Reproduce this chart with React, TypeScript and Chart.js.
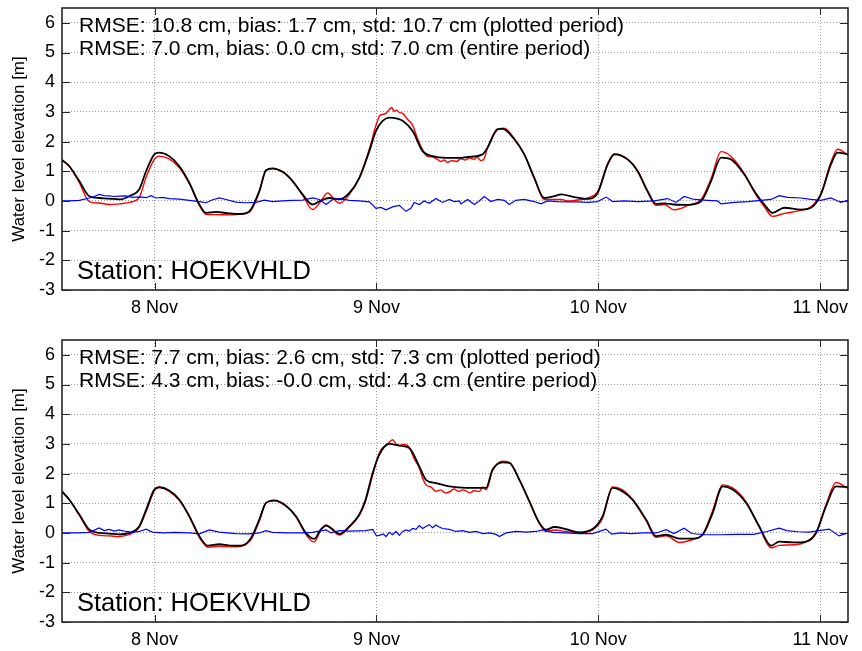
import React, { useEffect, useRef } from 'react';
import { Chart, registerables } from 'chart.js';

Chart.register(...registerables);

// ---------- axis definitions ----------
const X_RANGE = [7.583, 11.125]; // days of November
const X_TICKS = [8, 9, 10, 11];
const X_TICK_LABELS = ['8 Nov', '9 Nov', '10 Nov', '11 Nov'];
const Y_RANGE = [-3, 6.5];
const Y_TICKS = [-3, -2, -1, 0, 1, 2, 3, 4, 5, 6];
const Y_TITLE = 'Water level elevation [m]';
const STATION = 'Station: HOEKVHLD';

const TOP_STATS = [
  'RMSE: 10.8 cm, bias: 1.7 cm, std: 10.7 cm (plotted period)',
  'RMSE: 7.0 cm, bias: 0.0 cm, std: 7.0 cm (entire period)',
];
const BOTTOM_STATS = [
  'RMSE: 7.7 cm, bias: 2.6 cm, std: 7.3 cm (plotted period)',
  'RMSE: 4.3 cm, bias: -0.0 cm, std: 4.3 cm (entire period)',
];

// ---------- top panel data ----------
const TOP_T_MODEL = [7.583, 7.616, 7.661, 7.706, 7.751, 7.796, 7.841, 7.886, 7.931, 7.962, 7.999, 8.021, 8.066, 8.112, 8.157, 8.202, 8.232, 8.277, 8.337, 8.382, 8.427, 8.472, 8.502, 8.532, 8.577, 8.622, 8.667, 8.712, 8.743, 8.788, 8.833, 8.878, 8.923, 8.968, 8.998, 9.028, 9.058, 9.095, 9.118, 9.163, 9.208, 9.253, 9.314, 9.373, 9.411, 9.478, 9.501, 9.546, 9.569, 9.621, 9.666, 9.711, 9.756, 9.802, 9.832, 9.892, 9.952, 9.997, 10.042, 10.072, 10.132, 10.177, 10.222, 10.260, 10.297, 10.342, 10.402, 10.463, 10.508, 10.553, 10.598, 10.658, 10.703, 10.748, 10.785, 10.838, 10.913, 10.958, 11.003, 11.048, 11.078, 11.125];
const TOP_MODEL = [1.38, 1.17, 0.67, 0.16, 0.10, 0.08, 0.05, 0.16, 0.39, 1.00, 1.57, 1.63, 1.51, 1.17, 0.61, -0.12, -0.40, -0.37, -0.42, -0.44, -0.35, 0.33, 1.03, 1.10, 0.98, 0.67, 0.22, -0.12, -0.01, 0.10, 0.05, 0.27, 0.78, 1.68, 2.36, 2.70, 2.81, 2.77, 2.70, 2.36, 1.68, 1.51, 1.45, 1.45, 1.48, 1.57, 1.80, 2.42, 2.43, 2.08, 1.57, 0.78, 0.10, 0.16, 0.22, 0.13, 0.07, 0.27, 1.23, 1.57, 1.40, 1.00, 0.33, -0.10, -0.08, -0.12, -0.13, -0.01, 0.67, 1.46, 1.40, 0.89, 0.33, -0.12, -0.40, -0.23, -0.29, -0.23, 0.22, 1.23, 1.63, 1.57];

const TOP_T_OBS = [7.583, 7.616, 7.661, 7.706, 7.751, 7.796, 7.841, 7.886, 7.931, 7.962, 7.999, 8.021, 8.066, 8.112, 8.157, 8.202, 8.232, 8.277, 8.337, 8.382, 8.427, 8.472, 8.502, 8.532, 8.577, 8.622, 8.667, 8.712, 8.743, 8.780, 8.810, 8.833, 8.878, 8.923, 8.968, 8.998, 9.013, 9.028, 9.043, 9.058, 9.068, 9.080, 9.090, 9.103, 9.118, 9.140, 9.163, 9.185, 9.208, 9.230, 9.253, 9.275, 9.290, 9.305, 9.320, 9.340, 9.360, 9.380, 9.400, 9.420, 9.440, 9.455, 9.470, 9.485, 9.501, 9.546, 9.569, 9.585, 9.621, 9.666, 9.711, 9.756, 9.802, 9.832, 9.862, 9.892, 9.952, 9.997, 10.042, 10.072, 10.132, 10.177, 10.222, 10.260, 10.297, 10.342, 10.372, 10.402, 10.463, 10.508, 10.553, 10.598, 10.658, 10.703, 10.748, 10.785, 10.838, 10.913, 10.958, 11.003, 11.048, 11.078, 11.125];
const TOP_OBS = [1.38, 1.17, 0.62, -0.02, -0.07, -0.12, -0.10, -0.05, 0.12, 0.80, 1.40, 1.51, 1.42, 1.12, 0.58, -0.15, -0.45, -0.46, -0.47, -0.45, -0.38, 0.30, 1.03, 1.08, 0.98, 0.67, 0.20, -0.29, -0.08, 0.27, 0.05, -0.08, 0.22, 0.78, 1.75, 2.55, 2.85, 2.92, 2.95, 3.08, 3.15, 3.02, 3.06, 2.98, 2.95, 2.75, 2.55, 2.10, 1.72, 1.50, 1.48, 1.40, 1.33, 1.38, 1.30, 1.36, 1.33, 1.42, 1.38, 1.45, 1.40, 1.48, 1.36, 1.42, 1.80, 2.40, 2.45, 2.42, 2.10, 1.58, 0.78, 0.05, 0.05, 0.05, 0.00, 0.02, 0.10, 0.32, 1.25, 1.58, 1.40, 1.02, 0.30, -0.15, -0.12, -0.30, -0.25, -0.15, 0.05, 0.75, 1.66, 1.50, 0.92, 0.30, -0.20, -0.52, -0.42, -0.32, -0.20, 0.25, 1.30, 1.74, 1.55];

const TOP_T_DIFF = [7.583, 7.616, 7.661, 7.706, 7.728, 7.751, 7.773, 7.796, 7.818, 7.841, 7.871, 7.901, 7.931, 7.962, 7.984, 8.006, 8.036, 8.066, 8.112, 8.157, 8.202, 8.232, 8.262, 8.292, 8.322, 8.367, 8.412, 8.457, 8.495, 8.532, 8.577, 8.622, 8.667, 8.712, 8.743, 8.773, 8.803, 8.833, 8.878, 8.923, 8.968, 8.998, 9.020, 9.043, 9.073, 9.103, 9.133, 9.155, 9.170, 9.193, 9.215, 9.238, 9.268, 9.298, 9.328, 9.351, 9.373, 9.381, 9.411, 9.441, 9.463, 9.486, 9.516, 9.546, 9.576, 9.598, 9.628, 9.666, 9.711, 9.741, 9.771, 9.816, 9.861, 9.906, 9.952, 9.997, 10.035, 10.065, 10.117, 10.177, 10.252, 10.312, 10.350, 10.387, 10.432, 10.492, 10.537, 10.553, 10.613, 10.673, 10.733, 10.778, 10.815, 10.853, 10.913, 10.958, 11.003, 11.048, 11.093, 11.125];
const TOP_DIFF = [0.00, 0.00, 0.02, 0.10, 0.15, 0.22, 0.18, 0.17, 0.15, 0.16, 0.17, 0.12, 0.14, 0.11, 0.18, 0.10, 0.12, 0.08, 0.06, 0.02, -0.02, -0.06, 0.04, 0.10, 0.05, -0.04, -0.06, -0.05, 0.03, -0.02, 0.00, 0.02, 0.03, 0.10, 0.05, -0.12, 0.05, 0.08, 0.02, 0.00, -0.03, -0.25, -0.22, -0.30, -0.20, -0.15, -0.35, -0.25, -0.05, -0.12, 0.00, -0.08, 0.08, -0.05, 0.05, -0.02, 0.00, -0.10, 0.05, -0.12, 0.00, 0.15, -0.02, 0.05, 0.02, -0.12, 0.02, 0.05, -0.02, -0.10, 0.00, -0.02, -0.03, -0.03, -0.05, -0.02, 0.13, -0.02, 0.00, -0.02, 0.00, 0.08, -0.05, 0.15, 0.05, 0.02, 0.00, -0.10, -0.05, -0.02, 0.02, 0.05, 0.18, 0.12, 0.10, 0.05, 0.02, 0.10, -0.05, 0.02];

// ---------- bottom panel data ----------
const BOT_T_MODEL = [7.583, 7.616, 7.661, 7.706, 7.751, 7.796, 7.841, 7.886, 7.931, 7.962, 7.999, 8.021, 8.066, 8.112, 8.157, 8.202, 8.240, 8.292, 8.343, 8.390, 8.435, 8.472, 8.502, 8.540, 8.592, 8.637, 8.682, 8.719, 8.749, 8.773, 8.795, 8.833, 8.878, 8.923, 8.950, 8.983, 9.013, 9.058, 9.103, 9.148, 9.193, 9.223, 9.268, 9.328, 9.404, 9.464, 9.494, 9.523, 9.569, 9.599, 9.644, 9.689, 9.734, 9.764, 9.802, 9.854, 9.914, 9.974, 10.019, 10.064, 10.109, 10.154, 10.215, 10.260, 10.305, 10.365, 10.425, 10.470, 10.515, 10.560, 10.605, 10.666, 10.725, 10.778, 10.815, 10.875, 10.936, 10.981, 11.026, 11.071, 11.125];
const BOT_MODEL = [1.40, 1.12, 0.62, 0.11, 0.00, -0.02, -0.05, 0.00, 0.22, 0.78, 1.46, 1.54, 1.43, 1.12, 0.56, -0.11, -0.43, -0.38, -0.43, -0.43, -0.17, 0.45, 1.01, 1.10, 0.92, 0.56, 0.00, -0.20, 0.11, 0.25, 0.17, -0.03, 0.22, 0.62, 1.10, 2.02, 2.64, 3.00, 2.94, 2.86, 2.24, 1.79, 1.68, 1.57, 1.52, 1.52, 1.52, 2.13, 2.38, 2.36, 1.79, 1.07, 0.34, 0.11, 0.20, 0.13, 0.02, 0.13, 0.56, 1.52, 1.40, 1.12, 0.45, -0.11, -0.06, -0.19, -0.19, -0.06, 0.67, 1.57, 1.46, 1.01, 0.22, -0.43, -0.29, -0.32, -0.29, 0.00, 0.90, 1.57, 1.54];

const BOT_T_OBS = [7.583, 7.616, 7.661, 7.706, 7.751, 7.796, 7.841, 7.886, 7.931, 7.962, 7.999, 8.021, 8.066, 8.112, 8.157, 8.202, 8.240, 8.292, 8.343, 8.390, 8.435, 8.472, 8.502, 8.540, 8.592, 8.637, 8.682, 8.719, 8.749, 8.773, 8.795, 8.833, 8.878, 8.923, 8.950, 8.983, 9.013, 9.040, 9.058, 9.073, 9.088, 9.103, 9.125, 9.148, 9.170, 9.193, 9.208, 9.223, 9.245, 9.268, 9.290, 9.310, 9.328, 9.350, 9.370, 9.390, 9.404, 9.420, 9.440, 9.464, 9.480, 9.494, 9.523, 9.569, 9.599, 9.644, 9.689, 9.734, 9.764, 9.802, 9.854, 9.914, 9.974, 10.019, 10.064, 10.109, 10.154, 10.215, 10.260, 10.305, 10.365, 10.425, 10.470, 10.515, 10.560, 10.605, 10.666, 10.725, 10.778, 10.815, 10.875, 10.936, 10.981, 11.026, 11.071, 11.125];
const BOT_OBS = [1.40, 1.12, 0.60, 0.05, -0.08, -0.10, -0.12, -0.05, 0.20, 0.72, 1.42, 1.54, 1.40, 1.10, 0.55, -0.15, -0.48, -0.45, -0.47, -0.45, -0.22, 0.40, 1.00, 1.08, 0.90, 0.55, -0.05, -0.31, 0.10, 0.27, 0.15, -0.07, 0.20, 0.60, 1.05, 1.95, 2.70, 2.95, 3.05, 3.14, 3.00, 2.95, 2.98, 2.88, 2.50, 2.20, 1.85, 1.62, 1.55, 1.40, 1.45, 1.35, 1.38, 1.48, 1.40, 1.45, 1.42, 1.35, 1.42, 1.40, 1.55, 1.45, 2.10, 2.42, 2.38, 1.80, 1.05, 0.32, 0.05, 0.10, 0.05, 0.00, 0.10, 0.50, 1.55, 1.45, 1.12, 0.42, -0.15, -0.10, -0.32, -0.22, -0.05, 0.75, 1.62, 1.52, 1.05, 0.20, -0.50, -0.42, -0.40, -0.30, 0.02, 0.95, 1.70, 1.50];

const BOT_T_DIFF = [7.583, 7.630, 7.661, 7.706, 7.751, 7.773, 7.796, 7.818, 7.841, 7.871, 7.901, 7.931, 7.962, 7.990, 8.036, 8.090, 8.157, 8.202, 8.247, 8.292, 8.367, 8.427, 8.472, 8.502, 8.532, 8.600, 8.667, 8.712, 8.773, 8.795, 8.833, 8.878, 8.923, 8.950, 8.983, 9.000, 9.013, 9.030, 9.043, 9.058, 9.073, 9.088, 9.103, 9.118, 9.133, 9.148, 9.163, 9.178, 9.193, 9.208, 9.223, 9.238, 9.253, 9.268, 9.283, 9.298, 9.328, 9.358, 9.388, 9.419, 9.449, 9.479, 9.509, 9.539, 9.554, 9.584, 9.629, 9.674, 9.719, 9.749, 9.794, 9.854, 9.914, 9.974, 10.034, 10.060, 10.100, 10.150, 10.200, 10.260, 10.305, 10.340, 10.387, 10.420, 10.480, 10.550, 10.620, 10.700, 10.760, 10.815, 10.850, 10.900, 10.950, 11.040, 11.085, 11.125];
const BOT_DIFF = [0.00, 0.00, 0.00, 0.02, 0.17, 0.08, 0.12, 0.06, 0.10, 0.05, 0.02, 0.05, 0.13, 0.03, 0.00, 0.02, 0.00, -0.03, 0.10, 0.03, -0.02, -0.03, 0.00, 0.08, 0.02, 0.00, 0.00, 0.02, 0.10, 0.00, 0.08, 0.06, 0.07, 0.08, 0.12, -0.10, -0.08, -0.03, -0.12, 0.02, -0.06, 0.05, -0.08, 0.05, 0.10, 0.06, 0.15, 0.12, 0.25, 0.15, 0.22, 0.28, 0.18, 0.27, 0.20, 0.15, 0.12, 0.05, 0.08, 0.02, 0.05, -0.02, 0.00, -0.05, -0.12, 0.00, 0.05, 0.03, 0.05, 0.10, 0.02, 0.00, -0.02, -0.02, 0.13, -0.04, 0.00, -0.02, 0.00, 0.00, 0.11, -0.02, 0.16, -0.02, -0.06, -0.06, -0.05, -0.05, 0.05, 0.16, 0.08, 0.04, 0.03, 0.13, -0.10, 0.00];

const FONT = '"Liberation Sans", Arial, Helvetica, sans-serif';

const zip = (t: number[], v: number[]) => t.map((x, i) => ({ x, y: v[i] }));

const framePlugin = {
  id: 'frame',
  afterDraw(chart: any, _args: any, opts: any) {
    const { ctx, chartArea, scales } = chart;
    const { left, right, top, bottom } = chartArea;
    ctx.save();
    ctx.strokeStyle = '#262626';
    ctx.lineWidth = 1;
    ctx.beginPath();
    X_TICKS.forEach((v) => {
      const px = Math.round(scales.x.getPixelForValue(v)) + 0.5;
      ctx.moveTo(px, bottom);
      ctx.lineTo(px, bottom - 7);
      ctx.moveTo(px, top);
      ctx.lineTo(px, top + 7);
    });
    Y_TICKS.forEach((v) => {
      const py = Math.round(scales.y.getPixelForValue(v)) + 0.5;
      ctx.moveTo(left, py);
      ctx.lineTo(left + 8, py);
      ctx.moveTo(right, py);
      ctx.lineTo(right - 8, py);
    });
    ctx.stroke();
    ctx.lineWidth = 1.6;
    ctx.strokeRect(left, top, right - left, bottom - top);

    ctx.fillStyle = '#000';
    ctx.textAlign = 'left';
    ctx.textBaseline = 'middle';
    ctx.font = `21px ${FONT}`;
    (opts.lines as string[]).forEach((line, i) => {
      ctx.fillText(line, left + 17, top + 18 + i * 23);
    });
    ctx.font = `25.5px ${FONT}`;
    ctx.fillText(opts.station, left + 15, bottom - 18);
    ctx.restore();
  },
};

function makeConfig(tM: number[], m: number[], tO: number[], o: number[], tD: number[], d: number[], lines: string[], padTop: number, xHeight: number): any {
  return {
    type: 'line',
    data: {
      datasets: [
        { label: 'difference', data: zip(tD, d), borderColor: '#0000ff', borderWidth: 1.2, pointRadius: 0, tension: 0, fill: false },
        { label: 'model', data: zip(tM, m), borderColor: '#000000', borderWidth: 1.8, pointRadius: 0, cubicInterpolationMode: 'monotone', fill: false },
        { label: 'observed', data: zip(tO, o), borderColor: '#ff0000', borderWidth: 1.4, pointRadius: 0, cubicInterpolationMode: 'monotone', fill: false },
      ],
    },
    options: {
      responsive: false,
      animation: false,
      events: [],
      layout: { padding: { left: 0, right: 14, top: padTop, bottom: 0 } },
      plugins: {
        legend: { display: false },
        tooltip: { enabled: false },
        frame: { lines, station: STATION },
      },
      scales: {
        x: {
          type: 'linear',
          min: X_RANGE[0],
          max: X_RANGE[1],
          afterBuildTicks: (s: any) => { s.ticks = X_TICKS.map((value) => ({ value })); },
          afterFit: (s: any) => { s.height = xHeight; s.paddingLeft = 0; s.paddingRight = 0; },
          ticks: {
            autoSkip: false,
            maxRotation: 0,
            padding: 7,
            color: '#000',
            font: { family: FONT, size: 18 },
            callback: (v: number) => X_TICK_LABELS[X_TICKS.indexOf(v)] ?? '',
          },
          grid: { color: '#9a9a9a', lineWidth: 1, drawTicks: false },
          border: { display: false, dash: [1, 2] },
        },
        y: {
          type: 'linear',
          min: Y_RANGE[0],
          max: Y_RANGE[1],
          afterBuildTicks: (s: any) => { s.ticks = Y_TICKS.map((value) => ({ value })); },
          afterFit: (s: any) => { s.width = 62; s.paddingTop = 0; s.paddingBottom = 0; },
          ticks: {
            padding: 7,
            color: '#000',
            font: { family: FONT, size: 18 },
          },
          title: {
            display: true,
            text: Y_TITLE,
            color: '#000',
            font: { family: FONT, size: 17 },
            padding: { top: 9, bottom: 0 },
          },
          grid: { color: '#9a9a9a', lineWidth: 1, drawTicks: false },
          border: { display: false, dash: [1, 2] },
        },
      },
    },
    plugins: [framePlugin],
  };
}

export default function App() {
  const topRef = useRef<HTMLCanvasElement>(null);
  const botRef = useRef<HTMLCanvasElement>(null);

  useEffect(() => {
    document.body.style.margin = '0';
    const c1 = new Chart(topRef.current as HTMLCanvasElement,
      makeConfig(TOP_T_MODEL, TOP_MODEL, TOP_T_OBS, TOP_OBS, TOP_T_DIFF, TOP_DIFF, TOP_STATS, 8, 30));
    const c2 = new Chart(botRef.current as HTMLCanvasElement,
      makeConfig(BOT_T_MODEL, BOT_MODEL, BOT_T_OBS, BOT_OBS, BOT_T_DIFF, BOT_DIFF, BOTTOM_STATS, 20, 29));
    return () => { c1.destroy(); c2.destroy(); };
  }, []);

  return (
    <div style={{ position: 'relative', width: 862, height: 651, background: '#fff', overflow: 'hidden' }}>
      <canvas ref={topRef} width={862} height={320} style={{ position: 'absolute', left: 0, top: 0 }} />
      <canvas ref={botRef} width={862} height={331} style={{ position: 'absolute', left: 0, top: 320 }} />
    </div>
  );
}
